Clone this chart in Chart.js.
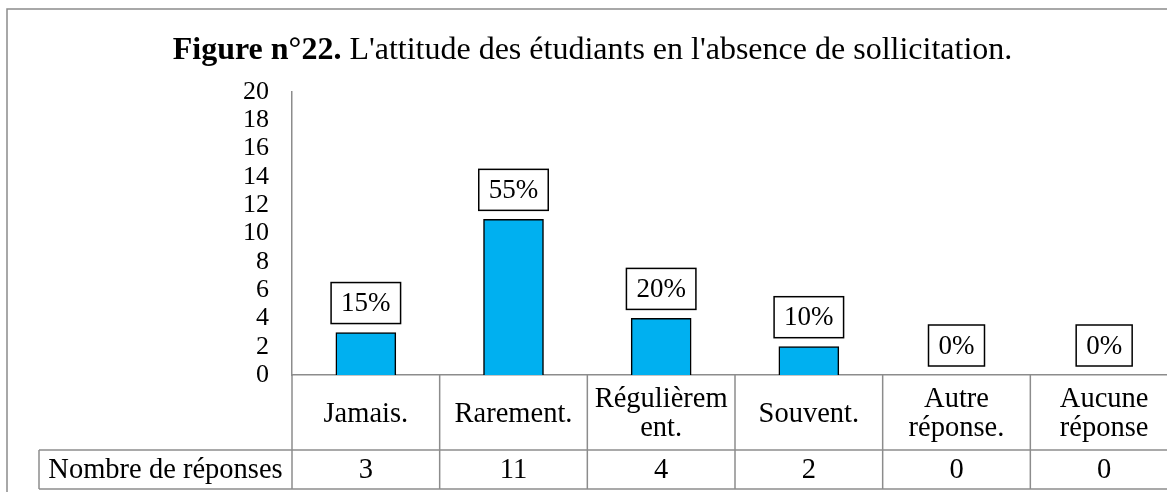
<!DOCTYPE html>
<html lang="fr">
<head>
<meta charset="utf-8">
<title>Figure n°22</title>
<script src="https://cdn.jsdelivr.net/npm/chart.js@4.4.1/dist/chart.umd.min.js"></script>
<style>
  html, body { margin: 0; padding: 0; background: #fff; overflow: hidden; }
  #wrap { width: 1190px; height: 492px; }
</style>
</head>
<body>
<div id="wrap"><canvas id="chart" width="1190" height="492"></canvas></div>
<script>
// --- Données ---
const categories = ['Jamais.', 'Rarement.', ['Régulièrem', 'ent.'], 'Souvent.', ['Autre', 'réponse.'], ['Aucune', 'réponse']];
const reponses = [3, 11, 4, 2, 0, 0];
const yMin = 0, yMax = 20, yStep = 2;
const titreGras = 'Figure n°22.';
const titreSuite = " L'attitude des étudiants en l'absence de sollicitation.";
const libelleLigne = 'Nombre de réponses';

// pourcentages affichés au-dessus des barres
const total = reponses.reduce((a, b) => a + b, 0);
const pourcentages = reponses.map(v => Math.round(v / total * 100) + '%');

const SERIF = '"Liberation Serif", "Times New Roman", serif';
const GRIS = '#8c8c8c';

// cadre + titre (partie en gras + partie normale)
const cadrePlugin = {
    id: 'cadre',
    beforeDraw(chart) {
        const ctx = chart.ctx;
        const area = chart.chartArea;
        ctx.save();
        ctx.strokeStyle = GRIS;
        ctx.lineWidth = 1.5;
        ctx.strokeRect(7, 9, chart.width + 20, chart.height + 20);

        ctx.fillStyle = '#000';
        ctx.textBaseline = 'alphabetic';
        ctx.textAlign = 'left';
        ctx.font = 'bold 32px ' + SERIF;
        const w1 = ctx.measureText(titreGras).width;
        ctx.font = '32px ' + SERIF;
        const w2 = ctx.measureText(titreSuite).width;
        const x0 = (7 + area.right) / 2 - (w1 + w2) / 2;
        ctx.font = 'bold 32px ' + SERIF;
        ctx.fillText(titreGras, x0, 59);
        ctx.font = '32px ' + SERIF;
        ctx.fillText(titreSuite, x0 + w1, 59);
        ctx.restore();
    }
};

// étiquettes encadrées au-dessus des barres
const etiquettesPlugin = {
    id: 'etiquettes',
    afterDatasetsDraw(chart) {
        const ctx = chart.ctx;
        const meta = chart.getDatasetMeta(0);
        ctx.save();
        ctx.font = '27px ' + SERIF;
        meta.data.forEach((bar, i) => {
            const txt = pourcentages[i];
            const w = ctx.measureText(txt).width + 20;
            const h = 41;
            const bas = bar.y - 9;
            ctx.fillStyle = '#fff';
            ctx.fillRect(bar.x - w / 2, bas - h, w, h);
            ctx.strokeStyle = '#000';
            ctx.lineWidth = 1.5;
            ctx.strokeRect(bar.x - w / 2, bas - h, w, h);
            ctx.fillStyle = '#000';
            ctx.textAlign = 'center';
            ctx.textBaseline = 'middle';
            ctx.fillText(txt, bar.x, bas - h / 2 + 1);
        });
        ctx.restore();
    }
};

// tableau de données sous l'axe
const tableauPlugin = {
    id: 'tableau',
    afterDraw(chart) {
        const ctx = chart.ctx;
        const area = chart.chartArea;
        const x = chart.scales.x;
        const col = (area.right - area.left) / categories.length;
        const yCat = area.bottom, yRow = 450, yEnd = 489, xGauche = 39;

        ctx.save();
        ctx.strokeStyle = GRIS;
        ctx.lineWidth = 1.5;
        const ligne = (a, b, c, d) => { ctx.beginPath(); ctx.moveTo(a, b); ctx.lineTo(c, d); ctx.stroke(); };

        ligne(xGauche, yRow, area.right, yRow);
        ligne(xGauche, yEnd, area.right, yEnd);
        ligne(xGauche, yRow, xGauche, yEnd);
        for (let i = 0; i <= categories.length; i++) {
            const bx = x.getPixelForValue(0) - col / 2 + i * col;
            ligne(bx, yCat, bx, yEnd);
        }

        ctx.fillStyle = '#000';
        ctx.font = '28.5px ' + SERIF;
        ctx.textAlign = 'center';
        ctx.textBaseline = 'middle';
        const milieu = (yRow + yEnd) / 2 + 1;
        ctx.fillText(libelleLigne, (xGauche + area.left) / 2, milieu);
        reponses.forEach((v, i) => ctx.fillText(String(v), x.getPixelForValue(i), milieu));
        ctx.restore();
    }
};

new Chart(document.getElementById('chart').getContext('2d'), {
    type: 'bar',
    data: {
        labels: categories,
        datasets: [{
            label: libelleLigne,
            data: reponses,
            backgroundColor: '#00B0F0',
            borderColor: '#000',
            borderWidth: 1.5,
            barThickness: 60
        }]
    },
    options: {
        responsive: false,
        animation: false,
        layout: { padding: { top: 92, right: 12, left: 0, bottom: 0 } },
        plugins: {
            legend: { display: false },
            title: { display: false },
            tooltip: { enabled: false }
        },
        scales: {
            x: {
                grid: { display: false, drawTicks: false },
                border: { display: true, color: GRIS, width: 1.5 },
                ticks: {
                    color: '#000',
                    font: { family: SERIF, size: 28.5, lineHeight: 0.99 },
                    padding: 25,
                    crossAlign: 'center',
                    maxRotation: 0,
                    autoSkip: false
                },
                afterFit: s => { s.height = 117; }
            },
            y: {
                min: yMin,
                max: yMax,
                grid: { display: false, drawTicks: false },
                border: { display: true, color: GRIS, width: 1.5 },
                ticks: { stepSize: yStep, autoSkip: false, padding: 23, color: '#000', font: { family: SERIF, size: 26 } },
                afterFit: s => { s.width = 292; }
            }
        }
    },
    plugins: [cadrePlugin, etiquettesPlugin, tableauPlugin]
});
</script>
</body>
</html>
